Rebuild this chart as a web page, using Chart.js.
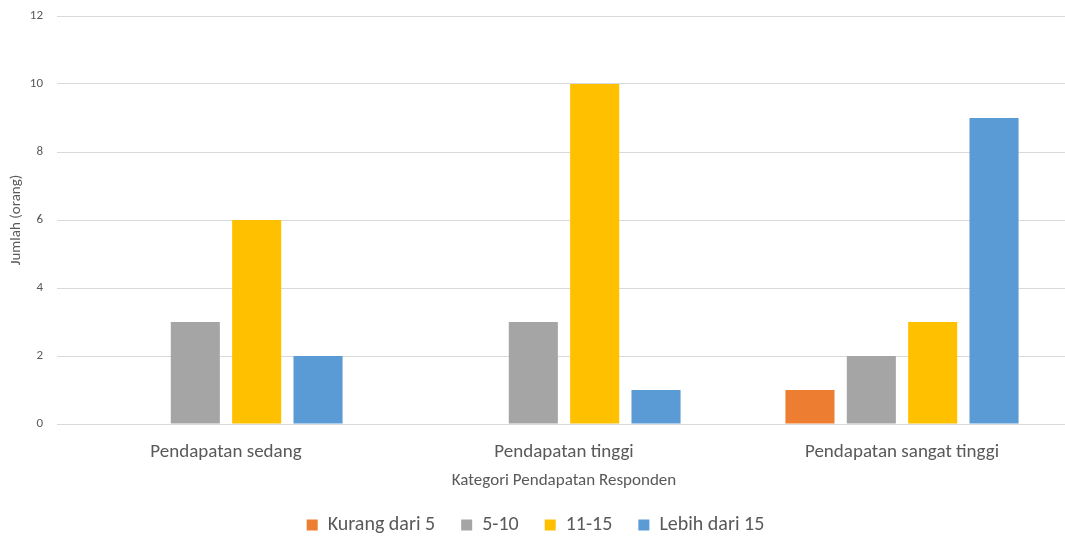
<!DOCTYPE html>
<html>
<head>
<meta charset="utf-8">
<script src="https://cdn.jsdelivr.net/npm/chart.js@4/dist/chart.umd.min.js"></script>
<style>
  html, body { margin: 0; padding: 0; background: #fff; overflow: hidden; }
  #wrap { width: 1065px; height: 536px; overflow: hidden; }
</style>
</head>
<body>
<div id="wrap"><canvas id="c" width="1071" height="536"></canvas></div>
<script>
const categories = ['Pendapatan sedang', 'Pendapatan tinggi', 'Pendapatan sangat tinggi'];
const seriesNames = ['Kurang dari 5', '5-10', '11-15', 'Lebih dari 15'];
const kurangDari5 = [0, 0, 1];
const lima_10 = [3, 3, 2];
const sebelas_15 = [6, 10, 3];
const lebihDari15 = [2, 1, 9];
const seriesColors = ['#ED7D31', '#A5A5A5', '#FFC000', '#5B9BD5'];
const yTicks = [0, 2, 4, 6, 8, 10, 12];

const fontFamily = 'Carlito, Lato, "Open Sans", sans-serif';
const textColor = '#595959';

const values = [kurangDari5, lima_10, sebelas_15, lebihDari15];
const datasets = seriesNames.map((name, i) => ({
  label: name,
  data: values[i],
  backgroundColor: seriesColors[i],
  borderWidth: 0,
  categoryPercentage: 0.726,
  barPercentage: 0.80
}));

new Chart(document.getElementById('c'), {
  type: 'bar',
  data: { labels: categories, datasets },
  options: {
    responsive: false,
    animation: false,
    layout: { padding: { top: 16, right: 0, left: 0, bottom: 0 } },
    plugins: {
      tooltip: { enabled: false },
      legend: {
        position: 'bottom',
        maxHeight: 47,
        labels: {
          boxWidth: 11,
          boxHeight: 11,
          padding: 26,
          color: textColor,
          font: { family: fontFamily, size: 20 }
        }
      }
    },
    scales: {
      x: {
        grid: { display: false, drawTicks: false },
        border: { display: true, color: '#d9d9d9', width: 1 },
        ticks: {
          color: textColor,
          padding: 17,
          font: { family: fontFamily, size: 19 }
        },
        title: {
          display: true,
          text: 'Kategori Pendapatan Responden',
          color: textColor,
          font: { family: fontFamily, size: 17 },
          padding: { top: 0, bottom: -2 }
        },
        afterFit(scale) { scale.height = 65; }
      },
      y: {
        min: 0,
        max: 12,
        afterBuildTicks(scale) { scale.ticks = yTicks.map(v => ({ value: v })); },
        grid: { color: '#d9d9d9', drawTicks: false },
        border: { display: false },
        ticks: {
          color: textColor,
          padding: 14,
          font: { family: fontFamily, size: 13 }
        },
        title: {
          display: true,
          text: 'Jumlah (orang)',
          color: textColor,
          font: { family: fontFamily, size: 15 },
          padding: { top: 7, bottom: 0 }
        },
        afterFit(scale) {
          scale.width = 57;
          scale.paddingTop = 0;
          scale.paddingBottom = 0;
        }
      }
    }
  }
});
</script>
</body>
</html>
